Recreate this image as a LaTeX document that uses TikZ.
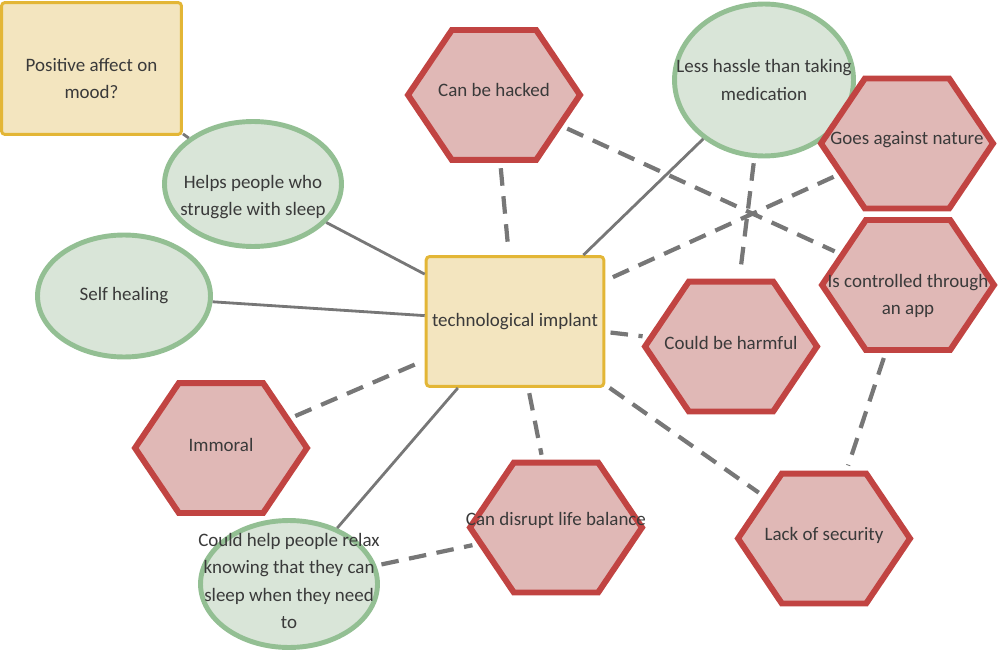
\documentclass[tikz,border=0pt]{standalone}
\usepackage{fontspec}
\setmainfont{Carlito}
\usetikzlibrary{shapes.geometric,shapes.symbols}
\definecolor{topicfill}{HTML}{F3E5BF}
\definecolor{topicline}{HTML}{E3B636}
\definecolor{profill}{HTML}{D9E5D8}
\definecolor{proline}{HTML}{93BF93}
\definecolor{confill}{HTML}{E0B8B6}
\definecolor{conline}{HTML}{C14442}
\definecolor{linkgray}{HTML}{777777}
\definecolor{textgray}{HTML}{3A3A3A}
\tikzset{
  every node/.style={font=\fontsize{10.8}{15.4}\selectfont, text=textgray, align=center},
  topic/.style={draw=topicline, fill=topicfill, line width=1.7pt, rounded corners=2pt,
    minimum width=3.54cm, minimum height=2.6cm},
  pro/.style={ellipse, draw=proline, fill=profill, line width=2.8pt,
    minimum width=3.54cm, minimum height=2.5cm},
  con/.style={signal, signal to=east and west, signal pointer angle=112,
    draw=conline, fill=confill, line width=3.4pt, minimum width=3.44cm, minimum height=2.6cm},
  link/.style={linkgray, line width=1.6pt},
  doubt/.style={linkgray, line width=2.4pt, dash pattern=on 10pt off 6pt,
    shorten <=3pt, shorten >=3pt}
}
\begin{document}
\begin{tikzpicture}[x=0.02cm, y=-0.02cm]
  \useasboundingbox (0,0) rectangle (1000,655);
  \node[topic, minimum width=3.6cm, minimum height=2.64cm, label={[yshift=-0.2cm]center:{Positive affect on\\mood?}}] (mood) at (91.5,68.5) {};
  \node[topic] (implant) at (515,321.5) {technological implant};

  \node[pro, label={[yshift=-0.26cm]center:{Helps people who\\struggle with sleep}}] (sleep) at (253,184) {};
  \node[pro, minimum width=3.46cm, minimum height=2.44cm, label={center:Self healing}] (healing) at (124,296) {};
  \node[pro, minimum width=3.58cm, minimum height=3.04cm, label={center:{Less hassle than taking\\medication}}] (hassle) at (764,80) {};
  \node[pro, minimum height=2.54cm, label={[yshift=0.06cm]center:{Could help people relax\\knowing that they can\\sleep when they need\\to}}] (relax) at (289,584) {};

  \node[con, label={[yshift=0.1cm]center:Can be hacked}] (hacked) at (494,95) {};
  \node[con, label={[yshift=0.08cm]center:Goes against nature}] (nature) at (907,143.5) {};
  \node[con, label={[yshift=-0.22cm]center:{Is controlled through\\an app}}] (app) at (908,285) {};
  \node[con, label={[yshift=0.08cm]center:Could be harmful}] (harmful) at (731,346.5) {};
  \node[con, label={[yshift=0.06cm]center:Immoral}] (immoral) at (221,448) {};
  \node[con, label={[yshift=0.14cm]center:Can disrupt life balance}] (disrupt) at (556,527.5) {};
  \node[con, label={[yshift=0.06cm]center:Lack of security}] (security) at (824,538.5) {};

  \draw[link] (mood) -- (sleep);
  \draw[link] (sleep) -- (implant);
  \draw[link] (healing) -- (implant);
  \draw[link] (hassle) -- (implant);
  \draw[link] (relax) -- (implant);
  \draw[doubt] (hacked) -- (implant);
  \draw[doubt] (hacked) -- (app);
  \draw[doubt] (nature) -- (implant);
  \draw[doubt] (hassle) -- (harmful);
  \draw[doubt] (implant) -- (harmful);
  \draw[doubt] (immoral) -- (implant);
  \draw[doubt] (implant) -- (disrupt);
  \draw[doubt] (implant) -- (security);
  \draw[doubt] (app) -- (security);
  \draw[doubt] (relax) -- (disrupt);
\end{tikzpicture}
\end{document}
